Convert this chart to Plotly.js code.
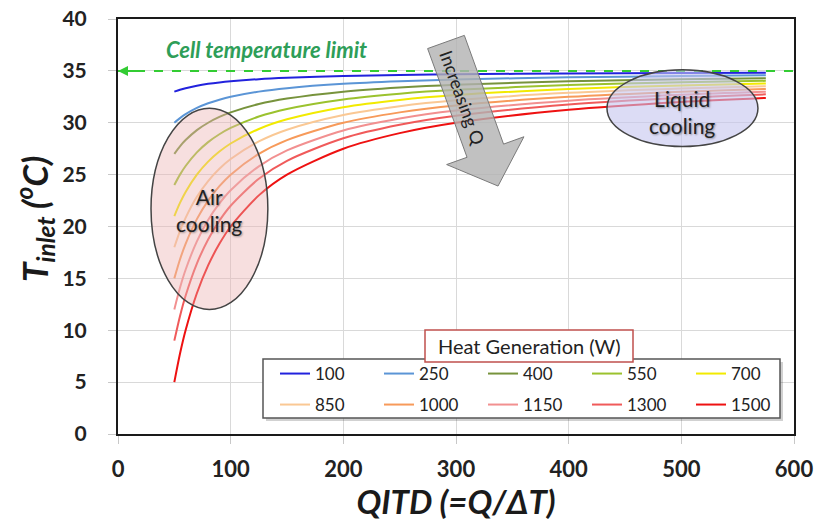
<!DOCTYPE html>
<html>
<head>
<meta charset="utf-8">
<script src="https://cdn.plot.ly/plotly-3.0.1.min.js"></script>
<style>html,body{margin:0;padding:0;background:#fff;}#chart{width:817px;height:521px;}</style>
</head>
<body>
<div id="chart"></div>
<script>
// QITD values (x) at which curves were read
const qitd = [50, 55, 60, 70, 80, 90, 100, 125, 150, 200, 250, 300, 400, 500, 575];

// Heat generation series (W)
const heatLabels = ["100", "250", "400", "550", "700", "850", "1000", "1150", "1300", "1500"];

// T_inlet values (°C) per series
const t100  = [33, 33.18, 33.33, 33.57, 33.75, 33.89, 34, 34.2, 34.33, 34.5, 34.6, 34.67, 34.75, 34.8, 34.83];
const t250  = [30, 30.45, 30.83, 31.43, 31.88, 32.22, 32.5, 33, 33.33, 33.75, 34, 34.17, 34.38, 34.5, 34.57];
const t400  = [27, 27.73, 28.33, 29.29, 30, 30.56, 31, 31.8, 32.33, 33, 33.4, 33.67, 34, 34.2, 34.3];
const t550  = [24, 25, 25.83, 27.14, 28.13, 28.89, 29.5, 30.6, 31.33, 32.25, 32.8, 33.17, 33.63, 33.9, 34.04];
const t700  = [21, 22.27, 23.33, 25, 26.25, 27.22, 28, 29.4, 30.33, 31.5, 32.2, 32.67, 33.25, 33.6, 33.78];
const t850  = [18, 19.55, 20.83, 22.86, 24.38, 25.56, 26.5, 28.2, 29.33, 30.75, 31.6, 32.17, 32.88, 33.3, 33.52];
const t1000 = [15, 16.82, 18.33, 20.71, 22.5, 23.89, 25, 27, 28.33, 30, 31, 31.67, 32.5, 33, 33.26];
const t1150 = [12, 14.09, 15.83, 18.57, 20.63, 22.22, 23.5, 25.8, 27.33, 29.25, 30.4, 31.17, 32.13, 32.7, 33];
const t1300 = [9, 11.36, 13.33, 16.43, 18.75, 20.56, 22, 24.6, 26.33, 28.5, 29.8, 30.67, 31.75, 32.4, 32.74];
const t1500 = [5, 7.73, 10, 13.57, 16.25, 18.33, 20, 23, 25, 27.5, 29, 30, 31.25, 32, 32.39];

const seriesValues = [t100, t250, t400, t550, t700, t850, t1000, t1150, t1300, t1500];
const colors = ["#2222dd", "#5b95d6", "#77933c", "#9bc22e", "#f2ea00", "#fac894", "#f79a5a", "#f29090", "#f05a5a", "#ee1111"];

// Cell temperature limit
const limitX = [0, 600];
const limitY = [35, 35];

const xTicks = [0, 100, 200, 300, 400, 500, 600];
const yTicks = [0, 5, 10, 15, 20, 25, 30, 35, 40];

const FONT = "Lato, 'Open Sans', sans-serif";

const traces = seriesValues.map((vals, i) => ({
  x: qitd,
  y: vals,
  type: "scatter",
  mode: "lines",
  name: heatLabels[i],
  line: { color: colors[i], width: 2, shape: "spline", smoothing: 0.8 },
  legend: i < 5 ? "legend" : "legend2",
  hoverinfo: "skip"
}));

traces.push({
  x: limitX, y: limitY, type: "scatter", mode: "lines",
  line: { color: "#33cc33", width: 2, dash: "dash" },
  showlegend: false, hoverinfo: "skip"
});

// pixel -> paper helpers (plot area 118..794 x, 19..434 y)
const L = 118, R = 794, T = 19, B = 434;
const px = p => (p - L) / (R - L);
const py = p => (B - p) / (B - T);

const legendCommon = {
  orientation: "h", xanchor: "left", yanchor: "middle",
  entrywidth: 59, entrywidthmode: "pixels",
  font: { family: FONT, size: 17, color: "#222" },
  bgcolor: "rgba(0,0,0,0)", borderwidth: 0, itemwidth: 30, traceorder: "normal"
};

const layout = {
  width: 817, height: 521,
  margin: { l: L, r: 817 - R, t: T, b: 521 - B, autoexpand: false },
  paper_bgcolor: "#fff", plot_bgcolor: "#fff",
  font: { family: FONT, color: "#222" },
  xaxis: {
    range: [0, 600], tickvals: xTicks, ticks: "outside", ticklen: 8, tickcolor: "#c8c8c8",
    ticklabelstandoff: 7,
    tickfont: { family: FONT, size: 22, weight: "bold", color: "#222" },
    showgrid: true, gridcolor: "#d9d9d9", gridwidth: 1, zeroline: false,
    showline: true, linecolor: "#1a1a1a", linewidth: 2, mirror: true,
    title: { text: "QITD (=Q/ΔT)", font: { family: FONT, size: 33, weight: "bold", style: "italic", color: "#1a1a1a" }, standoff: 8 }
  },
  yaxis: {
    range: [0, 40], tickvals: yTicks, ticks: "outside", ticklen: 8, tickcolor: "#c8c8c8",
    ticklabelstandoff: 17,
    tickfont: { family: FONT, size: 21, weight: "bold", color: "#222" },
    showgrid: true, gridcolor: "#d9d9d9", gridwidth: 1, zeroline: false,
    showline: true, linecolor: "#1a1a1a", linewidth: 2, mirror: true
  },
  legend: Object.assign({}, legendCommon, { x: px(275), y: py(374) }),
  legend2: Object.assign({}, legendCommon, { x: px(275), y: py(405) }),
  shapes: [
    // Air cooling ellipse
    { type: "circle", xref: "x", yref: "y", x0: 29.3, x1: 133, y0: 12.0, y1: 31.4,
      fillcolor: "rgba(236,178,178,0.42)", line: { color: "#444", width: 1.5 }, layer: "above" },
    // Liquid cooling ellipse
    { type: "circle", xref: "x", yref: "y", x0: 434, x1: 568, y0: 27.7, y1: 35.1,
      fillcolor: "rgba(196,196,238,0.6)", line: { color: "#444", width: 1.5 }, layer: "above" },
    // Increasing Q block arrow
    { type: "path", xref: "x", yref: "y",
      path: "M274.8,37.15 L307.4,38.42 L342.2,27.94 L360.3,28.65 L337.3,23.9 L291.7,25.97 L309.8,26.67 Z",
      fillcolor: "rgba(178,178,178,0.8)", line: { color: "#7a7a7a", width: 1 }, layer: "above" },
    // legend box shadow
    { type: "rect", xref: "paper", yref: "paper", x0: px(266), x1: px(783), y0: py(421), y1: py(362),
      fillcolor: "rgba(0,0,0,0.18)", line: { width: 0 }, layer: "above" },
    // legend box
    { type: "rect", xref: "paper", yref: "paper", x0: px(263), x1: px(780), y0: py(418), y1: py(359),
      fillcolor: "#fff", line: { color: "#555", width: 1.5 }, layer: "above" },
    // legend title box
    { type: "rect", xref: "paper", yref: "paper", x0: px(425), x1: px(633), y0: py(362), y1: py(330),
      fillcolor: "#fff", line: { color: "#c0504d", width: 1.5 }, layer: "above" }
  ],
  annotations: [
    // y axis title
    { x: px(34), y: py(219), xref: "paper", yref: "paper", xanchor: "center", yanchor: "middle",
      text: "T<sub>inlet</sub> (<sup>o</sup>C)", textangle: -90, showarrow: false,
      font: { family: FONT, size: 35, weight: "bold", style: "italic", color: "#1a1a1a" } },
    { x: 0, y: 35, xref: "x", yref: "y", ax: 26, ay: 0, text: "", showarrow: true,
      arrowhead: 2, arrowsize: 1, arrowwidth: 2, arrowcolor: "#33cc33" },
    { x: 132, y: 37.1, xref: "x", yref: "y", text: "Cell temperature limit", showarrow: false,
      font: { family: FONT, size: 22, weight: "bold", style: "italic", color: "#2e9e58" } },
    { x: 80.8, y: 21.6, xref: "x", yref: "y", text: "Air<br>cooling", showarrow: false,
      font: { family: FONT, size: 21, color: "#222", shadow: "1px 1px 2px rgba(0,0,0,0.35)" } },
    { x: 500.6, y: 31.0, xref: "x", yref: "y", text: "Liquid<br>cooling", showarrow: false,
      font: { family: FONT, size: 21, color: "#222", shadow: "1px 1px 2px rgba(0,0,0,0.35)" } },
    { x: 306, y: 32.4, xref: "x", yref: "y", text: "Increasing Q", showarrow: false, textangle: 70,
      font: { family: FONT, size: 18, color: "#222" } },
    { x: px(529), y: py(346), xref: "paper", yref: "paper", xanchor: "center", yanchor: "middle",
      text: "Heat Generation (W)", showarrow: false,
      font: { family: FONT, size: 20, color: "#222" } }
  ]
};

Plotly.newPlot("chart", traces, layout, { displayModeBar: false, staticPlot: true });
</script>
</body>
</html>
